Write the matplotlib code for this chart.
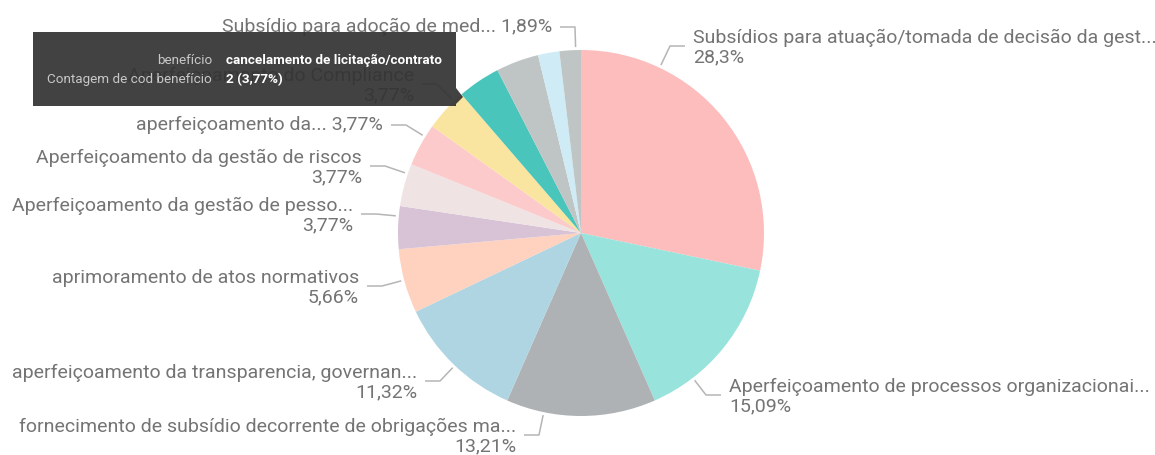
import numpy as np
import matplotlib.pyplot as plt
from matplotlib.patches import Rectangle, Polygon

# canvas in pixels
W, H = 1155, 455

# slices, clockwise from 12 o'clock
categories = [
    "Subsídios para atuação/tomada de decisão da gest...",
    "Aperfeiçoamento de processos organizacionai...",
    "fornecimento de subsídio decorrente de obrigações ma...",
    "aperfeiçoamento da transparencia, governan...",
    "aprimoramento de atos normativos",
    "Aperfeiçoamento da gestão de pesso...",
    "Aperfeiçoamento da gestão de riscos",
    "aperfeiçoamento da...",
    "Aperfeiçoamento do Compliance",
    "cancelamento de licitação/contrato",
    "",
    "",
    "Subsídio para adoção de med...",
]
counts = [15, 8, 7, 6, 3, 2, 2, 2, 2, 2, 2, 1, 1]
colors = ["#FDBDBD", "#98E3DC", "#AEB2B5", "#AED5E1", "#FED2BF", "#D8C3D6",
          "#EFE3E4", "#FCCACA", "#F9E59F", "#4AC5BB", "#BFC4C5", "#CEEBF6",
          "#BFC4C5"]

# tooltip content
tip_keys = ["benefício", "Contagem de cod benefício"]
tip_vals = ["cancelamento de licitação/contrato", "2 (3,77%)"]

# label layout: index -> (x edge, first line y, side, two lines)
label_layout = {
    0: (693, 37, "right", True),
    1: (729, 386, "right", True),
    2: (516, 426, "left", True),
    3: (417, 372, "left", True),
    4: (359, 277, "left", True),
    5: (353, 205, "left", True),
    6: (362, 157, "left", True),
    7: (383, 125, "left", False),
    8: (414, 75, "left", True),
    12: (552, 27, "left", False),
}

cx, cy, R = 581, 233, 183
txt_color = "#747474"
line_color = "#B5B5B5"
font = "Roboto"


def pct(c):
    s = "{:.2f}".format(100 * c / sum(counts)).rstrip("0").rstrip(".")
    return s.replace(".", ",") + "%"


def Y(y):
    return H - y


fig = plt.figure(figsize=(W / 100, H / 100), dpi=100)
ax = fig.add_axes([0, 0, 1, 1])

wedges, _ = ax.pie(counts, colors=colors, startangle=90, counterclock=False,
                   center=(cx, Y(cy)), radius=R, wedgeprops=dict(linewidth=0))

for i, (x, y1, side, two) in label_layout.items():
    p = pct(counts[i])
    if two:
        s = categories[i] + "\n" + p
        ymid = y1 + 10.5
        ly = y1 + 9
    else:
        s = categories[i] + " " + p
        ymid = y1
        ly = y1
    ha = "left" if side == "right" else "right"
    ax.text(x, Y(ymid), s, ha=ha, va="center", multialignment=ha,
            fontsize=14, color=txt_color, family=font, linespacing=1.08)

    # leader line: short horizontal then to the slice edge
    sgn = -1 if side == "right" else 1
    x0 = x + sgn * 8
    x1 = x0 + sgn * 15
    w = wedges[i]
    ang = np.degrees(np.arctan2(cy - ly, x1 - cx))
    t1, t2 = w.theta1, w.theta2
    ang = (ang - t1) % 360 + t1
    ang = min(max(ang, t1 + 1), t2 - 1)
    px = cx + (R + 3) * np.cos(np.radians(ang))
    py = cy - (R + 3) * np.sin(np.radians(ang))
    ax.plot([x0, x1, px], [Y(ly), Y(ly), Y(py)], color=line_color, lw=1.1,
            solid_capstyle="butt")

# tooltip box (slightly transparent)
ax.add_patch(Rectangle((33, Y(106)), 423, 74, facecolor="#333333",
                       alpha=0.93, edgecolor="none", zorder=10))
ax.add_patch(Polygon([(456, Y(88)), (463, Y(97)), (456, Y(104))],
                     closed=True, facecolor="#333333", alpha=0.93,
                     edgecolor="none", zorder=10))
for k, (key, val) in enumerate(zip(tip_keys, tip_vals)):
    yy = Y(60 + 20 * k)
    ax.text(212, yy, key, ha="right", va="center", fontsize=9.7,
            color="#C8C8C8", family=font, zorder=11)
    ax.text(226, yy, val, ha="left", va="center", fontsize=9.7,
            color="white", family=font, fontweight="bold", zorder=11)

ax.set_xlim(0, W)
ax.set_ylim(0, H)
ax.set_aspect("equal")
ax.axis("off")

fig.savefig("out.png", dpi=100)
